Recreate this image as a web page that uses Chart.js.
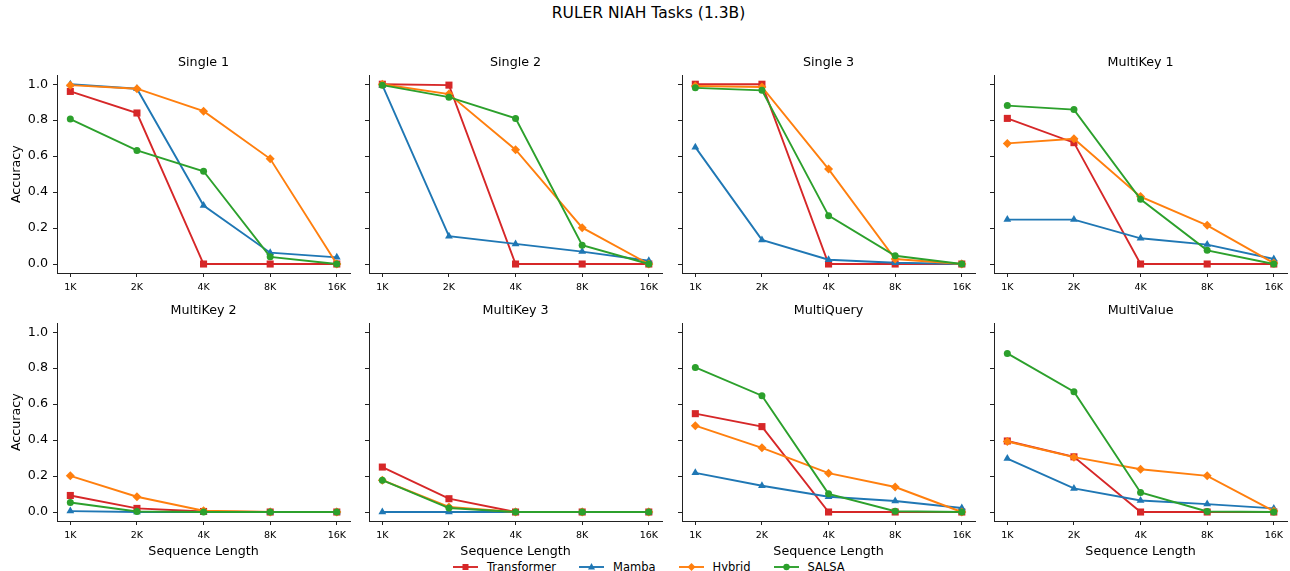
<!DOCTYPE html>
<html>
<head>
<meta charset="utf-8">
<title>RULER NIAH Tasks (1.3B)</title>
<script src="https://cdn.jsdelivr.net/npm/chart.js@4.4.1/dist/chart.umd.min.js"></script>
<style>
html, body { margin: 0; padding: 0; background: #fff; }
body { width: 1290px; height: 571px; position: relative; overflow: hidden; font-family: 'DejaVu Sans', sans-serif; color: #000; }
canvas { position: absolute; }
#suptitle { position: absolute; left: 0; width: 1297px; top: 4px; text-align: center; font-size: 15.5px; line-height: 18px; }
#legend { position: absolute; left: 453px; top: 560px; display: flex; font-size: 11.5px; line-height: 14px; }
.item { display: flex; align-items: center; margin-right: 23px; }
.item svg { margin-right: 9px; }
</style>
</head>
<body>
<div id="suptitle">RULER NIAH Tasks (1.3B)</div>
<div id="legend"></div>
<script>
const seqLabels = ['1K', '2K', '4K', '8K', '16K'];
const taskNames = ['Single 1', 'Single 2', 'Single 3', 'MultiKey 1', 'MultiKey 2', 'MultiKey 3', 'MultiQuery', 'MultiValue'];
const modelNames = ['Transformer', 'Mamba', 'Hybrid', 'SALSA'];
const yTicks = [0, 0.2, 0.4, 0.6, 0.8, 1.0];

// accuracy, one row per task (same order as taskNames), columns follow seqLabels
const transformerAcc = [
  [0.96, 0.84, 0, 0, 0],
  [1.0, 0.995, 0, 0, 0],
  [1.0, 1.0, 0, 0, 0],
  [0.81, 0.675, 0, 0, 0],
  [0.092, 0.02, 0.003, 0, 0],
  [0.25, 0.074, 0, 0, 0],
  [0.547, 0.475, 0, 0, 0],
  [0.395, 0.307, 0, 0, 0],
];
const mambaAcc = [
  [1.0, 0.975, 0.325, 0.063, 0.037],
  [0.995, 0.155, 0.112, 0.069, 0.018],
  [0.65, 0.134, 0.024, 0.007, 0],
  [0.247, 0.247, 0.143, 0.108, 0.028],
  [0.005, 0, 0, 0, 0],
  [0, 0, 0, 0, 0],
  [0.218, 0.146, 0.085, 0.061, 0.022],
  [0.297, 0.131, 0.064, 0.044, 0.02],
];
const hybridAcc = [
  [0.995, 0.975, 0.85, 0.585, 0],
  [1.0, 0.945, 0.636, 0.202, 0],
  [0.99, 0.985, 0.528, 0.028, 0],
  [0.671, 0.697, 0.375, 0.215, 0.005],
  [0.201, 0.085, 0.007, 0, 0],
  [0.177, 0.028, 0, 0, 0],
  [0.48, 0.357, 0.216, 0.139, 0],
  [0.392, 0.305, 0.238, 0.201, 0.005],
];
const salsaAcc = [
  [0.806, 0.632, 0.516, 0.04, 0],
  [0.995, 0.928, 0.81, 0.105, 0],
  [0.98, 0.966, 0.269, 0.046, 0],
  [0.881, 0.859, 0.36, 0.076, 0],
  [0.053, 0.003, 0, 0, 0],
  [0.177, 0.022, 0, 0, 0],
  [0.804, 0.647, 0.101, 0.004, 0],
  [0.882, 0.669, 0.109, 0.003, 0],
];

const allAcc = [transformerAcc, mambaAcc, hybridAcc, salsaAcc];
const colors = ['#d62728', '#1f77b4', '#ff7f0e', '#2ca02c'];
const markers = ['rect', 'triangle', 'rectRot', 'circle'];
const markerRadius = [5, 4.5, 4.5, 3.5];

// layout of the 2x4 grid (page pixels)
const colLeft = [57, 369, 682, 994];
const rowTop = [75, 323];
const plotW = 294;
const plotH = [198, 198];
const yAxisW = 50;
const titleH = 25;
const xAxisH = [25, 38];
const axisColor = '#222';

Chart.defaults.font.family = "'DejaVu Sans', sans-serif";
Chart.defaults.color = '#000';

taskNames.forEach((task, t) => {
  const row = Math.floor(t / 4);
  const col = t % 4;
  const w = yAxisW + plotW;
  const h = titleH + plotH[row] + xAxisH[row];
  const canvas = document.createElement('canvas');
  canvas.width = w;
  canvas.height = h;
  canvas.style.width = w + 'px';
  canvas.style.height = h + 'px';
  canvas.style.left = (colLeft[col] - yAxisW) + 'px';
  canvas.style.top = (rowTop[row] - titleH) + 'px';
  document.body.appendChild(canvas);

  new Chart(canvas, {
    type: 'line',
    data: {
      datasets: allAcc.map((acc, m) => ({
        label: modelNames[m],
        data: acc[t].map((v, i) => ({ x: i, y: v })),
        borderColor: colors[m],
        backgroundColor: colors[m],
        borderWidth: 1.9,
        pointStyle: markers[m],
        pointRadius: markerRadius[m],
        pointBorderWidth: 0,
        tension: 0,
        clip: false,
        order: modelNames.length - 1 - m, // later models drawn on top
      })),
    },
    options: {
      responsive: false,
      animation: false,
      events: [],
      layout: { padding: 0, autoPadding: false },
      plugins: {
        legend: { display: false },
        tooltip: { enabled: false },
        title: {
          display: true,
          text: task,
          fullSize: false,
          padding: { top: 5, bottom: 5 },
          font: { size: 12.7, weight: 'normal' },
          color: '#000',
        },
      },
      scales: {
        x: {
          type: 'linear',
          min: -0.2,
          max: 4.2,
          afterBuildTicks: (s) => { s.ticks = seqLabels.map((_, i) => ({ value: i })); },
          afterFit: (s) => { s.height = xAxisH[row]; },
          ticks: {
            callback: (v) => seqLabels[Math.round(v)],
            font: { size: 9.5 },
            color: '#000',
            maxRotation: 0,
            autoSkip: false,
            padding: 5,
          },
          grid: { drawOnChartArea: false, drawTicks: true, tickLength: 4, color: axisColor },
          border: { display: true, color: axisColor, width: 1 },
          title: {
            display: row === 1,
            text: 'Sequence Length',
            font: { size: 12.7 },
            color: '#000',
            padding: { top: 0, bottom: 0 },
          },
        },
        y: {
          min: -0.05,
          max: 1.05,
          afterBuildTicks: (s) => { s.ticks = yTicks.map((v) => ({ value: v })); },
          afterFit: (s) => { s.width = yAxisW; },
          ticks: {
            display: col === 0,
            callback: (v) => Number(v).toFixed(1),
            font: { size: 12.7 },
            color: '#000',
            padding: 5,
          },
          grid: { drawOnChartArea: false, drawTicks: true, tickLength: 4, color: axisColor },
          border: { display: true, color: axisColor, width: 1 },
          title: {
            display: col === 0,
            text: 'Accuracy',
            font: { size: 12.7 },
            color: '#000',
            padding: { top: 2, bottom: 0 },
          },
        },
      },
    },
  });
});

// legend below the grid
const markerSvg = {
  rect: (c) => `<rect x="9.5" y="4" width="6" height="6" fill="${c}"/>`,
  triangle: (c) => `<polygon points="12.5,3 16,9.5 9,9.5" fill="${c}"/>`,
  rectRot: (c) => `<polygon points="12.5,3 16.5,7 12.5,11 8.5,7" fill="${c}"/>`,
  circle: (c) => `<circle cx="12.5" cy="7" r="3.2" fill="${c}"/>`,
};
const legend = document.getElementById('legend');
modelNames.forEach((name, m) => {
  const item = document.createElement('div');
  item.className = 'item';
  item.innerHTML =
    `<svg width="25" height="14" viewBox="0 0 25 14">` +
    `<line x1="0" y1="7" x2="25" y2="7" stroke="${colors[m]}" stroke-width="1.9"/>` +
    markerSvg[markers[m]](colors[m]) +
    `</svg><span>${name}</span>`;
  legend.appendChild(item);
});
</script>
</body>
</html>
